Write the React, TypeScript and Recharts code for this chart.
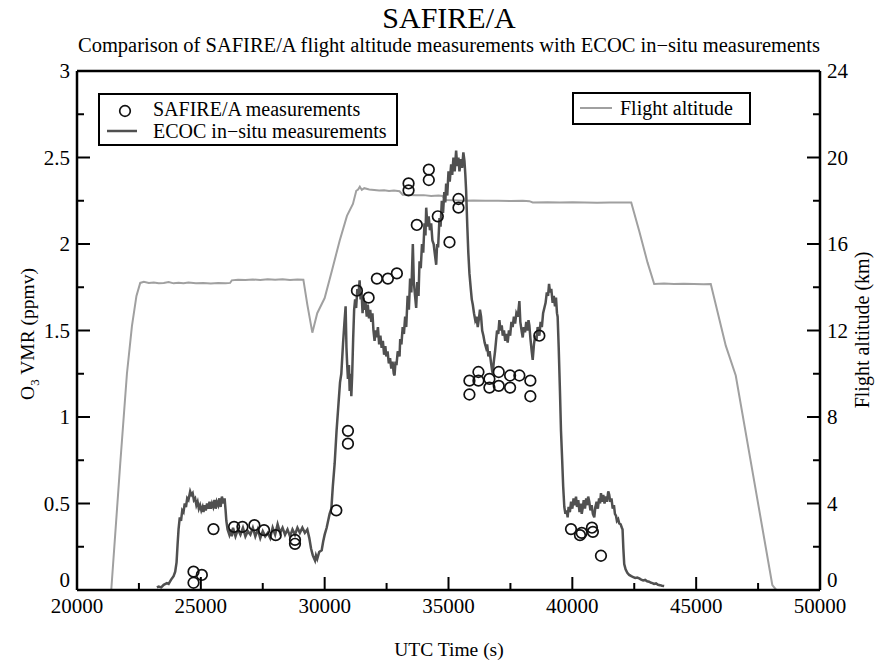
import React from 'react';
import {
  ComposedChart,
  Line,
  Scatter,
  XAxis,
  YAxis,
  ReferenceLine,
} from 'recharts';

// ECOC in-situ ozone, [UTC s, ppmv]
const ecocRaw: [number, number][] = [
  [23226, 0.015], [23300, 0.02], [23400, 0.015], [23500, 0.03], [23629, 0.04], [23700, 0.035],
  [23800, 0.06], [23900, 0.08], [23965, 0.106], [24020, 0.16], [24060, 0.26], [24100, 0.35],
  [24150, 0.42], [24200, 0.4], [24250, 0.46], [24300, 0.45], [24350, 0.5], [24400, 0.48],
  [24450, 0.53], [24500, 0.52], [24570, 0.57], [24620, 0.55], [24670, 0.56], [24720, 0.52],
  [24770, 0.53], [24820, 0.49], [24870, 0.51], [24920, 0.47], [24970, 0.49], [25020, 0.46],
  [25070, 0.48], [25108, 0.45], [25150, 0.49], [25200, 0.46], [25250, 0.5], [25300, 0.47],
  [25350, 0.51], [25400, 0.47], [25450, 0.5], [25500, 0.48], [25550, 0.52], [25600, 0.47],
  [25645, 0.51], [25700, 0.49], [25750, 0.53], [25800, 0.48], [25850, 0.54], [25915, 0.5],
  [25960, 0.53], [26000, 0.46], [26030, 0.4], [26080, 0.35], [26150, 0.32], [26200, 0.35],
  [26250, 0.31], [26300, 0.36], [26400, 0.31], [26500, 0.35], [26600, 0.32], [26700, 0.36],
  [26800, 0.31], [26900, 0.34], [27000, 0.32], [27100, 0.36], [27200, 0.31], [27300, 0.35],
  [27400, 0.3], [27500, 0.34], [27600, 0.31], [27700, 0.33], [27800, 0.3], [27900, 0.36],
  [28000, 0.32], [28100, 0.38], [28200, 0.33], [28300, 0.36], [28400, 0.32], [28500, 0.35],
  [28600, 0.31], [28700, 0.35], [28800, 0.32], [28900, 0.36], [29000, 0.33], [29100, 0.36],
  [29200, 0.33], [29300, 0.35], [29380, 0.3], [29450, 0.24], [29520, 0.2], [29610, 0.17],
  [29650, 0.2], [29700, 0.18], [29780, 0.22], [29880, 0.23], [29940, 0.28], [30000, 0.32],
  [30080, 0.36], [30140, 0.4], [30200, 0.44], [30270, 0.47], [30330, 0.6], [30403, 0.73],
  [30480, 0.92], [30560, 1.08], [30620, 1.2], [30672, 1.25], [30740, 1.42], [30800, 1.55],
  [30846, 1.64], [30880, 1.4], [30910, 1.3], [30940, 1.22], [30980, 1.3], [31010, 1.15],
  [31050, 1.25], [31076, 1.12], [31110, 1.24], [31150, 1.45], [31190, 1.62], [31230, 1.68],
  [31270, 1.63], [31320, 1.74], [31360, 1.7], [31411, 1.79], [31450, 1.68], [31490, 1.72],
  [31530, 1.6], [31570, 1.69], [31612, 1.62], [31650, 1.66], [31700, 1.58], [31740, 1.65],
  [31790, 1.57], [31840, 1.62], [31882, 1.55], [31930, 1.6], [31970, 1.5], [32015, 1.44],
  [32060, 1.5], [32100, 1.46], [32150, 1.52], [32200, 1.42], [32250, 1.47], [32300, 1.4],
  [32350, 1.44], [32400, 1.36], [32450, 1.41], [32487, 1.35], [32540, 1.38], [32590, 1.31],
  [32640, 1.34], [32690, 1.28], [32740, 1.32], [32790, 1.25], [32822, 1.24], [32860, 1.32],
  [32900, 1.3], [32950, 1.38], [33023, 1.35], [33050, 1.45], [33100, 1.42], [33150, 1.52],
  [33200, 1.48], [33250, 1.58], [33293, 1.52], [33350, 1.7], [33400, 1.62], [33450, 1.8],
  [33500, 1.72], [33560, 2.0], [33600, 1.78], [33650, 1.7], [33695, 1.63], [33740, 1.78],
  [33790, 1.7], [33830, 1.9], [33880, 1.86], [33930, 2.0], [33980, 1.95], [34030, 2.12],
  [34070, 2.05], [34100, 2.21], [34150, 2.1], [34200, 2.16], [34250, 2.08], [34300, 2.12],
  [34350, 2.02], [34400, 2.0], [34450, 1.94], [34503, 1.88], [34540, 2.0], [34580, 1.98],
  [34636, 2.15], [34680, 2.1], [34730, 2.25], [34780, 2.18], [34830, 2.3], [34870, 2.24],
  [34905, 2.35], [34950, 2.28], [35000, 2.42], [35050, 2.36], [35107, 2.46], [35150, 2.4],
  [35200, 2.5], [35250, 2.42], [35308, 2.54], [35350, 2.45], [35400, 2.5], [35442, 2.42],
  [35500, 2.49], [35550, 2.44], [35600, 2.53], [35644, 2.48], [35680, 2.4], [35711, 2.31],
  [35760, 2.1], [35800, 1.95], [35845, 1.83], [35900, 1.74], [35940, 1.68], [35980, 1.65],
  [36030, 1.6], [36080, 1.56], [36130, 1.58], [36181, 1.52], [36230, 1.57], [36270, 1.62],
  [36316, 1.58], [36360, 1.5], [36410, 1.47], [36460, 1.43], [36518, 1.4], [36560, 1.42],
  [36610, 1.35], [36660, 1.38], [36720, 1.31], [36760, 1.27], [36787, 1.25], [36830, 1.32],
  [36880, 1.38], [36920, 1.44], [36960, 1.5], [37010, 1.48], [37055, 1.56], [37100, 1.5],
  [37150, 1.53], [37190, 1.47], [37240, 1.5], [37290, 1.44], [37340, 1.48], [37390, 1.43],
  [37440, 1.5], [37490, 1.47], [37540, 1.55], [37590, 1.52], [37640, 1.58], [37690, 1.54],
  [37740, 1.6], [37800, 1.58], [37862, 1.67], [37900, 1.55], [37950, 1.5], [37997, 1.46],
  [38040, 1.52], [38090, 1.49], [38140, 1.55], [38190, 1.5], [38230, 1.56], [38265, 1.53],
  [38310, 1.45], [38360, 1.38], [38400, 1.33], [38450, 1.42], [38500, 1.47], [38550, 1.44],
  [38600, 1.52], [38668, 1.47], [38720, 1.55], [38770, 1.52], [38820, 1.6], [38870, 1.63],
  [38920, 1.66], [38970, 1.72], [39020, 1.7], [39060, 1.77], [39100, 1.72], [39150, 1.74],
  [39205, 1.66], [39250, 1.7], [39300, 1.64], [39340, 1.69], [39380, 1.6], [39407, 1.58],
  [39450, 1.4], [39500, 1.15], [39542, 0.92], [39590, 0.75], [39630, 0.6], [39676, 0.48],
  [39720, 0.44], [39770, 0.46], [39810, 0.42], [39850, 0.48], [39900, 0.45], [39950, 0.51],
  [40000, 0.47], [40050, 0.53], [40100, 0.49], [40148, 0.54], [40190, 0.48], [40240, 0.52],
  [40290, 0.45], [40340, 0.5], [40380, 0.44], [40416, 0.47], [40460, 0.52], [40510, 0.47],
  [40560, 0.53], [40600, 0.49], [40640, 0.54], [40684, 0.51], [40730, 0.46], [40780, 0.49],
  [40830, 0.44], [40886, 0.42], [40930, 0.48], [40980, 0.51], [41030, 0.47], [41080, 0.53],
  [41120, 0.5], [41156, 0.56], [41200, 0.51], [41250, 0.55], [41300, 0.5], [41350, 0.54],
  [41400, 0.51], [41450, 0.57], [41490, 0.55], [41530, 0.51], [41580, 0.53], [41630, 0.47],
  [41680, 0.49], [41720, 0.44], [41761, 0.43], [41800, 0.4], [41850, 0.41], [41894, 0.385],
  [41950, 0.38], [42000, 0.36], [42028, 0.35], [42060, 0.24], [42095, 0.15], [42150, 0.12],
  [42220, 0.1], [42297, 0.087], [42380, 0.08], [42460, 0.075], [42540, 0.07], [42620, 0.072],
  [42700, 0.067], [42780, 0.06], [42860, 0.055], [42940, 0.058], [43020, 0.05], [43100, 0.048],
  [43180, 0.042], [43236, 0.04], [43300, 0.035], [43380, 0.038], [43460, 0.03], [43540, 0.028],
  [43620, 0.025], [43708, 0.023],
];

// aircraft altitude, [UTC s, km]
const altitudeRaw: [number, number][] = [
  [21383, 0], [21747, 5.86], [22016, 10.0], [22218, 12.2], [22400, 13.6], [22553, 14.2],
  [22700, 14.25], [22900, 14.2], [23100, 14.22], [23300, 14.18], [23500, 14.2], [23700, 14.24],
  [23900, 14.18], [24100, 14.21], [24300, 14.19], [24500, 14.22], [24800, 14.18], [25100, 14.2],
  [25400, 14.17], [25700, 14.2], [26000, 14.18], [26183, 14.2], [26250, 14.32], [26500, 14.35],
  [26800, 14.33], [27100, 14.36], [27400, 14.34], [27700, 14.37], [28000, 14.35], [28300, 14.37],
  [28600, 14.34], [28900, 14.36], [29140, 14.35], [29300, 13.2], [29502, 11.9], [29700, 12.8],
  [30000, 13.5], [30300, 14.8], [30605, 16.15], [30900, 17.3], [31141, 17.85], [31276, 18.46],
  [31350, 18.52], [31420, 18.65], [31500, 18.5], [31600, 18.58], [31800, 18.52], [32000, 18.5],
  [32200, 18.47], [32400, 18.49], [32600, 18.45], [32800, 18.47], [33023, 18.44], [33150, 18.28],
  [33400, 18.27], [33700, 18.25], [34000, 18.26], [34300, 18.22], [34600, 18.24], [34757, 18.22],
  [34900, 18.03], [35200, 18.02], [35600, 18.0], [36000, 18.01], [36500, 18.0], [37000, 18.0],
  [37500, 17.99], [38000, 18.0], [38265, 17.98], [38400, 17.92], [39000, 17.93], [39500, 17.92],
  [40000, 17.93], [40500, 17.92], [41000, 17.91], [41500, 17.92], [42000, 17.92], [42378, 17.92],
  [42700, 16.6], [43035, 15.15], [43305, 14.15], [43700, 14.17], [44100, 14.15], [44500, 14.16],
  [44900, 14.15], [45300, 14.14], [45590, 14.15], [46195, 11.3], [46598, 9.92], [48075, 0.23],
  [48236, 0],
];

// SAFIRE/A retrievals, [UTC s, ppmv]
const safireRaw: [number, number][] = [
  [24705, 0.106], [24705, 0.042], [25040, 0.087], [25510, 0.352], [26343, 0.365], [26680, 0.365],
  [27163, 0.375], [27552, 0.346], [28024, 0.317], [28802, 0.29], [28802, 0.267], [30470, 0.46],
  [30940, 0.92], [30940, 0.846], [31303, 1.73], [31774, 1.69], [32109, 1.8], [32553, 1.8],
  [32915, 1.83], [33387, 2.35], [33387, 2.31], [33721, 2.11], [34205, 2.43], [34205, 2.37],
  [34568, 2.16], [35040, 2.01], [35403, 2.26], [35403, 2.21], [35845, 1.21], [35845, 1.13],
  [36209, 1.26], [36209, 1.21], [36652, 1.22], [36652, 1.17], [37028, 1.26], [37028, 1.18],
  [37487, 1.24], [37487, 1.17], [37862, 1.24], [38305, 1.21], [38305, 1.12], [38668, 1.47],
  [39946, 0.352], [40309, 0.317], [40380, 0.33], [40792, 0.36], [40830, 0.336], [41156, 0.198],
];

const xTicks = [20000, 22500, 25000, 27500, 30000, 32500, 35000, 37500, 40000, 42500, 45000, 47500, 50000];
const o3Ticks = [0, 0.25, 0.5, 0.75, 1, 1.25, 1.5, 1.75, 2, 2.25, 2.5, 2.75, 3];
const altTicks = [0, 2, 4, 6, 8, 10, 12, 14, 16, 18, 20, 22, 24];

const ecoc = ecocRaw.map(([t, v]) => ({ t, o3: v }));
const altitude = altitudeRaw.map(([t, v]) => ({ t, alt: v }));
const safire = safireRaw.map(([t, v]) => ({ t, o3: v }));

const FONT = '"Liberation Serif", "DejaVu Serif", serif';
const ECOC_COLOR = '#505050';
const ALT_COLOR = '#a0a0a0';
const TICK_FONT = 21;

// ticks point inward, labels sit outside the frame;
// the "0" labels are lifted so they clear the corner time labels
const XTick = ({ x, y, payload }: any) => {
  const major = payload.value % 5000 === 0;
  return (
    <g>
      <line x1={x} x2={x} y1={y} y2={y - (major ? 13 : 7)} stroke="#000" strokeWidth={2} />
      {major && (
        <text x={x} y={y + 23} textAnchor="middle" fontSize={TICK_FONT} fontFamily={FONT} fill="#000">
          {payload.value}
        </text>
      )}
    </g>
  );
};

const LeftTick = ({ x, y, payload }: any) => {
  const major = Math.abs(payload.value * 2 - Math.round(payload.value * 2)) < 1e-6;
  return (
    <g>
      <line x1={x} x2={x + (major ? 13 : 7)} y1={y} y2={y} stroke="#000" strokeWidth={2} />
      {major && (
        <text
          x={x - 7}
          y={payload.value === 0 ? y - 3 : y + 7}
          textAnchor="end"
          fontSize={TICK_FONT}
          fontFamily={FONT}
          fill="#000"
        >
          {payload.value}
        </text>
      )}
    </g>
  );
};

const RightTick = ({ x, y, payload }: any) => {
  const major = payload.value % 4 === 0;
  return (
    <g>
      <line x1={x} x2={x - (major ? 13 : 7)} y1={y} y2={y} stroke="#000" strokeWidth={2} />
      {major && (
        <text
          x={x + 7}
          y={payload.value === 0 ? y - 3 : y + 7}
          textAnchor="start"
          fontSize={TICK_FONT}
          fontFamily={FONT}
          fill="#000"
        >
          {payload.value}
        </text>
      )}
    </g>
  );
};

const OpenCircle = ({ cx, cy }: any) => (
  <circle cx={cx} cy={cy} r={5.3} fill="none" stroke="#111" strokeWidth={1.7} />
);

export default function App() {
  return (
    <div style={{ position: 'absolute', left: 0, top: 0, width: 888, height: 664, background: '#fff' }}>
      <ComposedChart width={888} height={664} margin={{ top: 71, right: 67, bottom: 73, left: 76 }}>
        <XAxis
          dataKey="t"
          type="number"
          domain={[20000, 50000]}
          ticks={xTicks}
          interval={0}
          height={1}
          tickSize={0}
          tickMargin={0}
          tickLine={false}
          tick={<XTick />}
          axisLine={{ stroke: '#000', strokeWidth: 2.5 }}
          allowDataOverflow
        />
        <YAxis
          yAxisId="o3"
          type="number"
          domain={[0, 3]}
          ticks={o3Ticks}
          interval={0}
          width={1}
          tickSize={0}
          tickMargin={0}
          tickLine={false}
          tick={<LeftTick />}
          axisLine={{ stroke: '#000', strokeWidth: 2.5 }}
        />
        <YAxis
          yAxisId="alt"
          orientation="right"
          type="number"
          domain={[0, 24]}
          ticks={altTicks}
          interval={0}
          width={1}
          tickSize={0}
          tickMargin={0}
          tickLine={false}
          tick={<RightTick />}
          axisLine={{ stroke: '#000', strokeWidth: 2.5 }}
        />
        <ReferenceLine yAxisId="o3" y={3} stroke="#000" strokeWidth={2.5} />
        <Line
          yAxisId="alt"
          data={altitude}
          dataKey="alt"
          type="linear"
          stroke={ALT_COLOR}
          strokeWidth={2}
          dot={false}
          isAnimationActive={false}
        />
        <Line
          yAxisId="o3"
          data={ecoc}
          dataKey="o3"
          type="linear"
          stroke={ECOC_COLOR}
          strokeWidth={2.5}
          dot={false}
          isAnimationActive={false}
        />
        <Scatter
          yAxisId="o3"
          data={safire}
          dataKey="o3"
          shape={<OpenCircle />}
          isAnimationActive={false}
        />
      </ComposedChart>

      <svg
        width={888}
        height={664}
        style={{ position: 'absolute', left: 0, top: 0, pointerEvents: 'none' }}
        fontFamily={FONT}
      >
        <text x={449} y={28} textAnchor="middle" fontSize={30}>SAFIRE/A</text>
        <text x={449} y={52} textAnchor="middle" fontSize={20.5}>
          Comparison of SAFIRE/A flight altitude measurements with ECOC in−situ measurements
        </text>
        <text x={449} y={656} textAnchor="middle" fontSize={19.5}>UTC Time (s)</text>
        <text transform="translate(34,334) rotate(-90)" textAnchor="middle" fontSize={19.5}>
          O<tspan fontSize={13} dy={5}>3</tspan>
          <tspan dy={-5}> VMR (ppmv)</tspan>
        </text>
        <text transform="translate(869,330) rotate(-90)" textAnchor="middle" fontSize={20}>
          Flight altitude (km)
        </text>

        <rect x={99} y={94} width={298} height={51} fill="#fff" stroke="#000" strokeWidth={2} />
        <circle cx={125} cy={111} r={5.3} fill="none" stroke="#111" strokeWidth={1.7} />
        <text x={153} y={116} fontSize={20}>SAFIRE/A measurements</text>
        <line x1={107} x2={137} y1={131} y2={131} stroke={ECOC_COLOR} strokeWidth={2.5} />
        <text x={153} y={138} fontSize={20}>ECOC in−situ measurements</text>

        <rect x={573} y={93} width={177} height={31} fill="#fff" stroke="#000" strokeWidth={2} />
        <line x1={580} x2={612} y1={108} y2={108} stroke={ALT_COLOR} strokeWidth={2} />
        <text x={620} y={115} fontSize={20}>Flight altitude</text>
      </svg>
    </div>
  );
}
